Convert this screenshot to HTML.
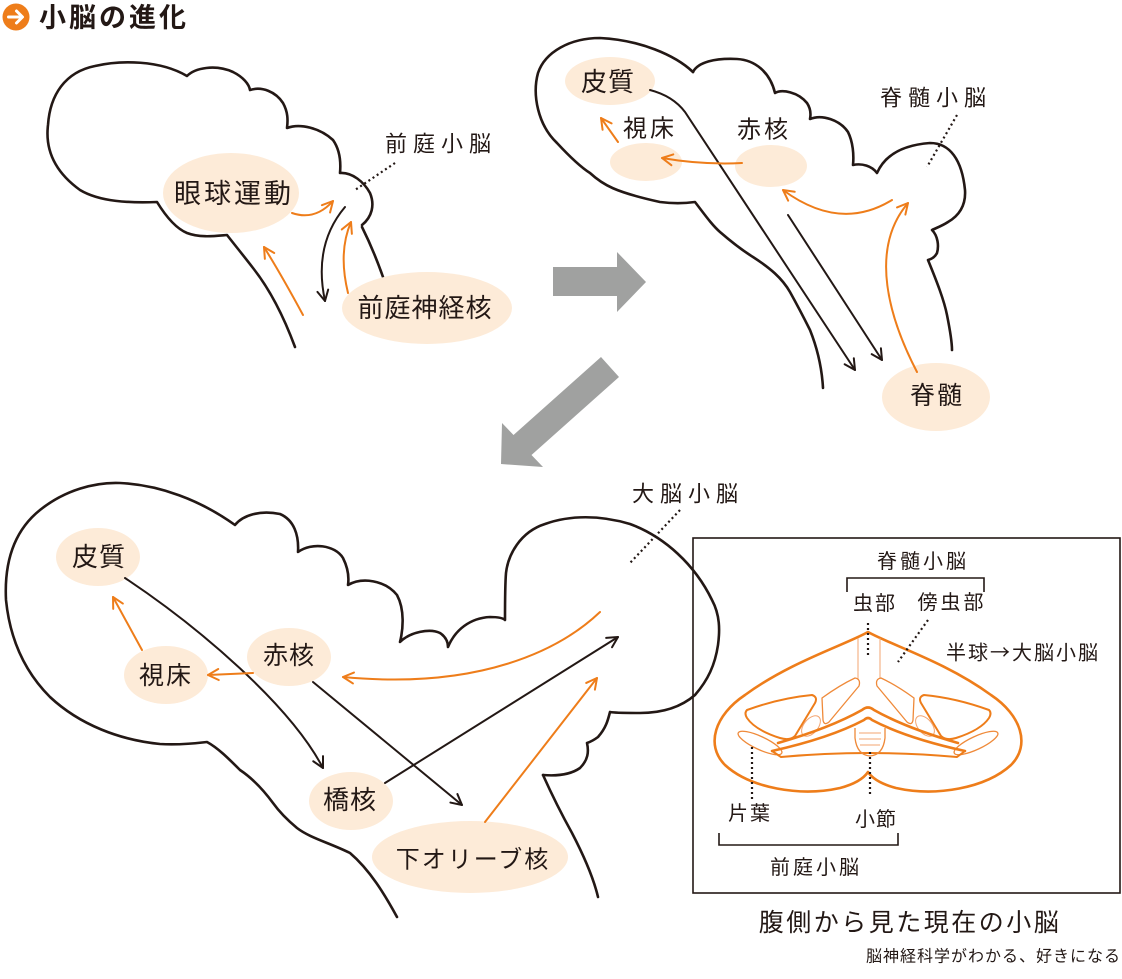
<!DOCTYPE html>
<html><head><meta charset="utf-8">
<style>
html,body{margin:0;padding:0;background:#fff;}
svg{display:block;}
text{font-family:"Liberation Sans","Noto Sans CJK JP",sans-serif;fill:#231815;dominant-baseline:central;text-anchor:middle;}
.o{fill:none;stroke:#231815;stroke-width:2.6;stroke-linecap:round;stroke-linejoin:round;}
.bk{fill:none;stroke:#231815;stroke-width:2;stroke-linecap:round;}
.or{fill:none;stroke:#ee7d1a;stroke-width:2;stroke-linecap:round;}
.dot{fill:none;stroke:#231815;stroke-width:2.2;stroke-dasharray:2 3;}
.el{fill:#fdebd8;}
.c1{fill:none;stroke:#ee7d1a;stroke-width:2.6;stroke-linejoin:round;stroke-linecap:round;}
.c2{fill:none;stroke:#ef8a3a;stroke-width:1.3;stroke-linejoin:round;}
.c3{fill:none;stroke:#f3a470;stroke-width:1;}
.halo{stroke:#fff;stroke-width:7;paint-order:stroke;stroke-linejoin:round;}
</style></head>
<body>
<svg width="1122" height="979" viewBox="0 0 1122 979" xmlns="http://www.w3.org/2000/svg">
<defs>
<marker id="ab" viewBox="0 0 14 14" refX="12" refY="7" markerWidth="14" markerHeight="14" markerUnits="userSpaceOnUse" orient="auto">
<path d="M1.5,1.5 L12,7 L1.5,12.5" fill="none" stroke="#231815" stroke-width="2" stroke-linecap="round" stroke-linejoin="round"/></marker>
<marker id="ao" viewBox="0 0 14 14" refX="12" refY="7" markerWidth="14" markerHeight="14" markerUnits="userSpaceOnUse" orient="auto">
<path d="M1.5,1.5 L12,7 L1.5,12.5" fill="none" stroke="#ee7d1a" stroke-width="2" stroke-linecap="round" stroke-linejoin="round"/></marker>
</defs>

<!-- Title -->
<circle cx="16" cy="17" r="13.5" fill="#ee7d1a"/>
<path d="M8.5,17 L22,17 M16.5,11 L22.5,17 L16.5,23" fill="none" stroke="#fff" stroke-width="3" stroke-linecap="round" stroke-linejoin="round"/>
<text x="114" y="18" font-size="27" font-weight="bold" letter-spacing="3">小脳の進化</text>

<!-- ===== Top-left brain ===== -->
<path class="o" d="M295,347 C285,320 272,292 253,268 C243,255 234,244 227,235 C215,236 200,238 187,233 C175,228 165,215 157,202 C130,203 100,202 80,190 C55,172 45,150 48,125 C50,95 65,72 95,66 C120,60 160,60 187,76 C195,68 215,64 233,72 C243,77 249,84 250,90 C262,86 276,92 283,103 C288,112 288,120 287,128 C300,123 320,128 333,140 C340,150 341,162 340,173 C352,172 364,182 370,193 C375,205 372,217 362,225"/>
<path class="o" d="M362,227 C370,243 377,260 383,277"/>

<!-- ===== Top-right brain ===== -->
<path class="o" d="M693,72 C675,55 640,40 600,38 C570,38 545,52 538,73 C532,95 538,125 557,143 C570,157 582,168 590,173 C603,185 615,192 660,202 C675,204 688,203 695,202 C705,215 712,225 720,232 C735,245 745,252 753,257 C770,268 782,278 790,292 C800,310 806,322 810,330 C818,350 822,370 823,388"/>
<path class="o" d="M693,72 C698,62 715,58 737,59 C755,60 770,72 775,93 C782,89 798,92 807,103 C811,109 811,114 810,119 C822,114 840,120 848,132 C853,142 854,155 853,165 C862,163 872,166 877,173 C885,155 903,145 930,143 C950,143 962,160 965,190 C966,205 960,215 948,222 C942,226 936,228 932,230 C938,236 939,246 937,253 C935,257 932,259 928,260 C937,282 944,300 947,315 C950,330 952,342 952,350"/>

<!-- ===== Bottom brain ===== -->
<path class="o" d="M397,917 C385,895 370,870 350,853 C330,843 310,838 297,828 C285,818 278,810 273,803 C262,788 252,778 240,770 C228,758 218,748 207,742 C190,744 175,745 160,744 C120,740 80,725 50,697 C25,672 10,640 6,600 C4,560 15,530 40,510 C65,490 95,482 120,483 C160,485 200,500 235,525 C243,515 260,510 280,514 C294,520 299,535 298,552 C312,542 335,545 343,558 C348,568 349,578 348,585 C362,577 385,580 397,595 C405,610 403,630 400,642 C410,632 430,628 440,633 C446,637 448,642 448,647 C455,630 470,618 490,617 C498,617 503,618 505,620 C505,600 505,585 506,573 C508,555 520,532 545,524 C570,515 600,515 630,524 C665,537 695,565 712,600 C720,615 720,630 718,645 C715,665 708,680 695,695 C680,708 660,713 640,713 C625,713 615,713 610,712 C608,720 606,728 598,737 C594,740 590,742 587,743 C589,752 588,760 580,768 C570,775 555,776 543,775"/>
<path class="o" d="M543,775 C552,795 562,815 572,833 C585,858 594,880 598,897"/>

<!-- ===== Gray transition arrows ===== -->
<polygon points="553,267 617,267 617,252 646,282 617,312 617,296 553,296" fill="#a0a1a0"/>
<polygon points="601,357 619,377 531.5,455 543,467 501,464 502,423 513.5,435" fill="#a0a1a0"/>

<!-- ===== Ellipses ===== -->
<ellipse class="el" cx="231" cy="193" rx="68" ry="40"/>
<ellipse class="el" cx="427" cy="308" rx="85" ry="36"/>

<ellipse class="el" cx="610" cy="81" rx="45" ry="24"/>
<ellipse class="el" cx="646" cy="162" rx="36" ry="19"/>
<ellipse class="el" cx="771" cy="166" rx="36" ry="21"/>
<ellipse class="el" cx="936" cy="397" rx="54" ry="34"/>

<ellipse class="el" cx="98" cy="557" rx="42" ry="29"/>
<ellipse class="el" cx="166" cy="675" rx="42" ry="29"/>
<ellipse class="el" cx="289" cy="657" rx="42" ry="29"/>
<ellipse class="el" cx="351" cy="801" rx="42" ry="29"/>
<ellipse class="el" cx="470" cy="857" rx="98" ry="36"/>

<!-- ===== Top-left arrows ===== -->
<path class="or" d="M292,213 Q315,221 333,201" marker-end="url(#ao)"/>
<path class="or" d="M303,315 Q282,276 264,247" marker-end="url(#ao)"/>
<path class="or" d="M348,293 Q338,252 351,222" marker-end="url(#ao)"/>
<path class="bk" d="M345,207 Q313,245 325,301" marker-end="url(#ab)"/>
<path class="dot" d="M395,163 L355,190"/>

<!-- ===== Top-right arrows ===== -->
<path class="bk" d="M650,90 Q673,96 685,112 L855,370" marker-end="url(#ab)"/>
<path class="bk" d="M788,215 L882,360" marker-end="url(#ab)"/>
<path class="or" d="M618,142 L601,118" marker-end="url(#ao)"/>
<path class="or" d="M742,163 Q702,165 662,158" marker-end="url(#ao)"/>
<path class="or" d="M892,200 Q840,232 783,190" marker-end="url(#ao)"/>
<path class="or" d="M917,372 C890,320 868,250 908,203" marker-end="url(#ao)"/>
<path class="dot" d="M957,115 L927,167"/>

<!-- ===== Bottom arrows ===== -->
<path class="bk" d="M125,578 C200,628 290,705 323,768" marker-end="url(#ab)"/>
<path class="bk" d="M313,682 L462,805" marker-end="url(#ab)"/>
<path class="bk" d="M385,783 L618,637" marker-end="url(#ab)"/>
<path class="or" d="M142,650 L113,597" marker-end="url(#ao)"/>
<path class="or" d="M253,673 L208,675" marker-end="url(#ao)"/>
<path class="or" d="M485,822 L597,678" marker-end="url(#ao)"/>
<path class="or" d="M600,612 C560,650 480,690 343,677" marker-end="url(#ao)"/>
<path class="dot" d="M680,510 L630,563"/>

<!-- ===== Labels ===== -->
<text x="234" y="194" font-size="27" letter-spacing="3">眼球運動</text>
<text x="425" y="308" font-size="26" letter-spacing="1">前庭神経核</text>
<text x="441" y="144" font-size="22" letter-spacing="6">前庭小脳</text>

<text x="608" y="82" font-size="26" letter-spacing="1">皮質</text>
<text x="650" y="129" font-size="24" letter-spacing="3" class="halo">視床</text>
<text x="764" y="130" font-size="24" letter-spacing="3" class="halo">赤核</text>
<text x="936" y="98" font-size="22" letter-spacing="6">脊髄小脳</text>
<text x="937" y="396" font-size="25" letter-spacing="2">脊髄</text>

<text x="99" y="557" font-size="26" letter-spacing="1">皮質</text>
<text x="166" y="676" font-size="25" letter-spacing="2">視床</text>
<text x="289" y="656" font-size="25" letter-spacing="1">赤核</text>
<text x="350" y="800" font-size="26" letter-spacing="1">橋核</text>
<text x="473" y="860" font-size="24" letter-spacing="2">下オリーブ核</text>
<text x="688" y="494" font-size="22" letter-spacing="6">大脳小脳</text>

<!-- ===== Inset box ===== -->
<rect x="693" y="538" width="427" height="355" fill="none" stroke="#231815" stroke-width="1.6"/>

<!-- cerebellum -->
<path class="c1" d="M868,632 C845,645 790,662 745,695 C715,715 705,745 725,765 C750,788 800,797 840,788 C855,784 864,778 868,772 C872,778 881,784 896,788 C936,797 986,788 1011,765 C1031,745 1021,715 991,695 C946,662 891,645 868,632 Z"/>
<path class="c3" d="M858,638 L858,679 M880,638 L880,679"/>
<!-- lobules left -->
<path class="c2" d="M822,698 Q840,685 855,678 Q861,679 859,686 L829,722 Q824,726 823,720 Z"/>
<path class="c1" style="stroke-width:2" d="M747,710 Q780,698 812,695 Q818,697 815,703 L795,736 Q790,741 780,738 Q755,730 747,718 Q744,713 747,710 Z"/>
<ellipse class="c3" cx="811" cy="726" rx="12" ry="7" transform="rotate(-50 811 726)"/>
<ellipse class="c2" cx="760" cy="743" rx="24" ry="6.5" transform="rotate(25 760 743)"/>
<!-- lobules right -->
<path class="c2" d="M914,698 Q896,685 881,678 Q875,679 877,686 L907,722 Q912,726 913,720 Z"/>
<path class="c1" style="stroke-width:2" d="M989,710 Q956,698 924,695 Q918,697 921,703 L941,736 Q946,741 956,738 Q981,730 989,718 Q992,713 989,710 Z"/>
<ellipse class="c3" cx="925" cy="726" rx="12" ry="7" transform="rotate(50 925 726)"/>
<ellipse class="c2" cx="976" cy="743" rx="24" ry="6.5" transform="rotate(-25 976 743)"/>
<!-- arch band -->
<path class="c1" d="M778,743 Q830,728 862,710 Q868,705 874,710 Q906,728 958,743"/>
<path class="c1" d="M772,751 Q830,738 864,720 Q868,716 872,720 Q906,738 965,751"/>
<path class="c1" style="stroke-width:2" d="M772,751 L781,757 Q868,749 957,757 L965,751"/>
<!-- nodulus -->
<path class="c2" d="M855,728 L855,738 Q857,755 870,756 Q883,755 885,738 L885,728"/>
<path class="c3" d="M859,733 L881,733 M859,739 L881,739 M860,745 L880,745"/>

<!-- inset dotted -->
<path class="dot" d="M868,623 L868,658"/>
<path class="dot" d="M928,620 L898,662"/>
<path class="dot" d="M752,747 L752,800"/>
<path class="dot" d="M870,752 L870,795"/>

<!-- brackets -->
<path d="M847,592 L847,578 L984,578 L984,592" fill="none" stroke="#231815" stroke-width="1.6"/>
<path d="M719,833 L719,845 L898,845 L898,833" fill="none" stroke="#231815" stroke-width="1.6"/>

<!-- inset labels -->
<text x="923" y="562" font-size="20" letter-spacing="3">脊髄小脳</text>
<text x="875" y="604" font-size="20" letter-spacing="2">虫部</text>
<text x="952" y="603" font-size="20" letter-spacing="3">傍虫部</text>
<text x="1023" y="651" font-size="20" letter-spacing="2" style="font-family:'Noto Sans CJK JP',sans-serif">半球→大脳小脳</text>
<text x="750" y="814" font-size="20" letter-spacing="2">片葉</text>
<text x="876" y="820" font-size="20" letter-spacing="1">小節</text>
<text x="816" y="868" font-size="20" letter-spacing="3">前庭小脳</text>

<text x="910" y="923" font-size="25" letter-spacing="2.5">腹側から見た現在の小脳</text>
<text x="1121" y="957" font-size="16" letter-spacing="1" style="text-anchor:end">脳神経科学がわかる、好きになる</text>
</svg>
</body></html>
